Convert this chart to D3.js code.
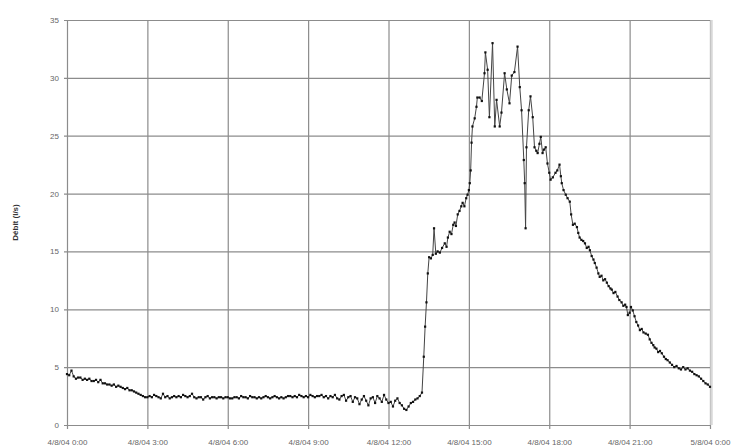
<!DOCTYPE html>
<html>
<head>
<meta charset="utf-8">
<script src="https://cdn.jsdelivr.net/npm/d3@7"></script>
<style>
  html, body { margin: 0; padding: 0; background: #fff; }
  svg { display: block; }
  text { font-family: "Liberation Sans", Arial, sans-serif; }
</style>
</head>
<body>
<svg id="chart" width="742" height="448"></svg>
<script>
// ---- data (time in minutes after 4/8/04 0:00, debit in l/s) ----
const minutes = [
  0,5,10,15,20,25,30,35,40,45,50,55,60,65,70,75,80,85,90,95,100,105,110,115,
  120,125,130,135,140,145,150,155,160,165,170,175,180,185,190,195,200,205,210,215,220,225,230,235,
  240,245,250,255,260,265,270,275,280,285,290,295,300,305,310,315,320,325,330,335,340,345,350,355,
  360,365,370,375,380,385,390,395,400,405,410,415,420,425,430,435,440,445,450,455,460,465,470,475,
  480,485,490,495,500,505,510,515,520,525,530,535,540,545,550,555,560,565,570,575,580,585,590,595,
  600,605,610,615,620,625,630,635,640,645,650,655,660,665,670,675,680,685,690,695,700,705,710,715,
  720,725,730,735,740,745,750,755,760,765,770,775,780,785,790,795,
  799,802,805,808,811,815,819,822,826,830,835,840,846,850,853,857,861,865,868,871,875,879,883,886,
  890,894,897,900,902,904,906,908,913,917,919,924,929,935,937,942,946,953,958,962,969,973,980,985,
  991,996,1002,1009,1014,1018,1023,1025,1027,1029,1034,1038,1043,1047,1051,1054,1058,1061,1065,
  1068,1072,1076,1080,1083,1088,1094,1098,1103,1106,1108,1112,1117,1121,1126,1129,1133,1137,1142,
  1145,1148,1152,1156,1160,1164,1168,1171,1175,1179,1182,1186,1190,1193,1197,1201,1205,1209,1213,
  1217,1220,1224,1228,1233,1237,1242,1246,1250,1253,1256,1260,1263,1267,1271,1275,1279,1283,1287,
  1291,1296,1301,1305,1309,1313,1316,1320,1324,1328,1332,1337,1341,1345,1350,1355,1360,1365,1370,
  1375,1380,1385,1390,1395,1400,1405,1410,1415,1420,1425,1430,1435,1440
];
const debit = [
  4.4,4.3,4.7,4.2,4.0,4.1,4.1,3.9,4.0,3.9,4.0,3.8,3.8,3.9,3.7,3.9,3.6,3.6,3.5,3.5,3.4,3.5,3.3,3.4,
  3.3,3.2,3.1,3.2,3.0,3.0,2.9,2.8,2.7,2.6,2.5,2.4,2.4,2.5,2.4,2.6,2.5,2.4,2.3,2.7,2.4,2.5,2.3,2.4,
  2.5,2.4,2.5,2.4,2.6,2.5,2.4,2.5,2.7,2.4,2.3,2.4,2.4,2.2,2.4,2.5,2.3,2.4,2.4,2.3,2.4,2.4,2.3,2.4,
  2.4,2.3,2.3,2.4,2.4,2.3,2.5,2.4,2.4,2.3,2.5,2.4,2.4,2.3,2.4,2.3,2.4,2.5,2.4,2.3,2.4,2.5,2.4,2.3,
  2.4,2.3,2.4,2.5,2.5,2.4,2.5,2.4,2.6,2.5,2.4,2.5,2.4,2.6,2.5,2.4,2.5,2.5,2.6,2.4,2.5,2.3,2.5,2.4,
  2.6,2.3,2.2,2.5,2.6,2.1,2.4,2.5,2.0,2.4,2.3,1.8,2.2,2.5,2.1,1.7,2.3,2.4,1.9,2.5,2.3,2.0,2.6,2.2,
  1.9,2.0,1.6,2.1,2.3,1.9,1.7,1.4,1.3,1.6,1.9,2.0,2.2,2.3,2.5,2.8,
  5.9,8.5,10.6,13.1,14.5,14.4,14.7,17.0,14.8,15.0,14.9,15.3,15.7,15.4,16.2,16.7,16.5,17.3,17.5,17.2,18.2,18.5,18.9,19.2,
  18.9,19.6,19.9,20.3,20.9,22.0,24.4,25.8,26.5,27.5,28.3,28.3,28.0,30.4,32.2,30.7,26.6,33.0,25.8,28.1,25.8,27.0,30.4,29.0,
  27.8,30.2,30.5,32.7,29.2,27.2,22.9,20.9,17.0,24.0,27.2,28.4,26.6,24.0,23.7,23.5,24.3,24.9,23.5,
  23.8,24.0,22.6,21.8,21.2,21.4,21.8,22.0,22.5,21.5,20.9,20.3,19.9,19.6,19.3,18.2,17.3,17.4,17.1,
  16.6,16.2,16.0,15.9,15.7,15.3,15.4,15.1,14.6,14.3,14.0,13.6,13.1,12.8,12.9,12.5,12.6,12.3,12.0,
  11.8,11.7,11.4,11.5,11.1,10.8,10.6,10.3,10.4,10.2,9.5,9.7,10.2,9.9,9.4,8.9,8.6,8.2,8.3,
  8.0,7.9,7.8,7.4,7.1,6.9,6.7,6.6,6.3,6.4,6.2,5.9,5.7,5.6,5.4,5.2,5.0,5.1,4.9,
  4.8,5.0,4.8,4.9,4.7,4.6,4.4,4.3,4.2,4.0,3.8,3.6,3.5,3.3
];
const xTickMinutes = [0,180,360,540,720,900,1080,1260,1440];
const xTickLabels = ["4/8/04 0:00","4/8/04 3:00","4/8/04 6:00","4/8/04 9:00","4/8/04 12:00",
                     "4/8/04 15:00","4/8/04 18:00","4/8/04 21:00","5/8/04 0:00"];
const yTicks = [0,5,10,15,20,25,30,35];
const yTitle = "Débit (l/s)";

// ---- chart ----
const svg = d3.select("#chart");
const m = {left: 67, right: 32, top: 20, bottom: 23};
const W = 742, H = 448;
const x = d3.scaleLinear().domain([0,1440]).range([m.left, W - m.right]);
const y = d3.scaleLinear().domain([0,35]).range([H - m.bottom, m.top]);

const gridColor = "#8c8c8c";

// horizontal gridlines + y axis
const yAxis = d3.axisLeft(y).tickValues(yTicks).tickSize(-(W - m.left - m.right)).tickPadding(8);
const gy = svg.append("g").attr("transform", `translate(${m.left},0)`).call(yAxis);
gy.select(".domain").remove();
gy.selectAll(".tick line").attr("stroke", gridColor).attr("stroke-width", 1.2).attr("x1", -3);
gy.selectAll(".tick text").attr("fill", "#666").style("font-size", "8px");

// vertical gridlines + x axis
const xAxis = d3.axisBottom(x).tickValues(xTickMinutes)
  .tickFormat((d, i) => xTickLabels[i])
  .tickSize(-(H - m.top - m.bottom)).tickPadding(14);
const gx = svg.append("g").attr("transform", `translate(0,${H - m.bottom})`).call(xAxis);
gx.select(".domain").remove();
gx.selectAll(".tick line").attr("stroke", gridColor).attr("stroke-width", 1.2).attr("y1", 4);
gx.selectAll(".tick text").attr("fill", "#666").style("font-size", "8px");

// right border (light)
svg.append("line")
  .attr("x1", x(1440) + 1.5).attr("x2", x(1440) + 1.5)
  .attr("y1", y(35)).attr("y2", y(0))
  .attr("stroke", "#d8d8d8").attr("stroke-width", 2.5);

// y title
svg.append("text")
  .attr("transform", `translate(18,${(y(0) + y(35)) / 2}) rotate(-90)`)
  .attr("text-anchor", "middle")
  .attr("fill", "#333")
  .style("font-size", "8px")
  .style("font-weight", "bold")
  .text(yTitle);

// series
const data = minutes.map((t, i) => ({t, v: debit[i]}));
const line = d3.line().x(d => x(d.t)).y(d => y(d.v));
svg.append("path").datum(data)
  .attr("d", line)
  .attr("fill", "none")
  .attr("stroke", "#444")
  .attr("stroke-width", 1);

svg.append("g").selectAll("rect").data(data).join("rect")
  .attr("x", d => x(d.t) - 1.1)
  .attr("y", d => y(d.v) - 1.1)
  .attr("width", 2.2).attr("height", 2.2)
  .attr("fill", "#111");
</script>
</body>
</html>
